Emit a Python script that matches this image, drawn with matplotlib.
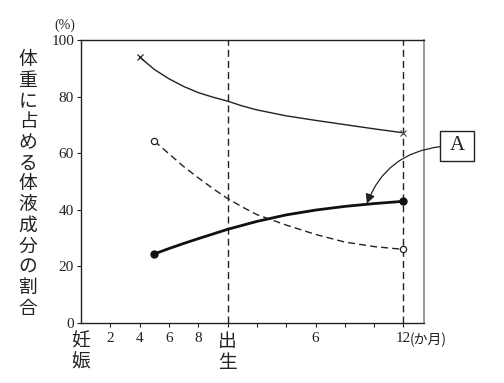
import matplotlib.pyplot as plt
from matplotlib.patches import Rectangle

# x: pregnancy month (0-10), birth = 10, then 10 + months after birth
x_water = [4, 5, 6, 7, 8, 9, 10, 11, 12, 14, 16, 18, 20, 22]
y_water = [94, 89.6, 86.3, 83.6, 81.4, 79.8, 78.4, 76.7, 75.3, 73.2, 71.6, 70.1, 68.6, 67.2]

x_extra = [5, 6, 7, 8, 9, 10, 11, 12, 14, 16, 18, 20, 22]
y_extra = [64.3, 59.8, 55.3, 51.3, 47.5, 44, 41, 38.3, 34.6, 31.3, 28.6, 27, 26]

x_intra = [5, 6, 7, 8, 10, 12, 14, 16, 18, 20, 22]
y_intra = [24.4, 26.3, 28.1, 29.8, 33.1, 35.9, 38.2, 39.9, 41.2, 42.2, 43]

pre_ticks = [2, 4, 6, 8]
post_ticks = [12, 14, 16, 18, 20, 22]
tick_labels = {2: '2', 4: '4', 6: '6', 8: '8', 16: '6', 22: '12'}
yticks = [0, 20, 40, 60, 80, 100]
ylabel = '体重に占める体液成分の割合'

serif = 'Liberation Serif'
jp = ['Noto Sans CJK JP', 'DejaVu Sans']
ink = '#222'

fig = plt.figure(figsize=(5.04, 3.83), dpi=100)
ax = fig.add_axes([81 / 504, 1 - 323 / 383, 343 / 504, 283 / 383])

ax.plot(x_water, y_water, color=ink, lw=1.0)
ax.plot(x_water[0], y_water[0], 'x', color=ink, ms=5, mew=0.9)
ax.plot(x_water[-1], y_water[-1], 'x', color='#555', ms=5, mew=0.9)

ax.plot(x_extra, y_extra, color=ink, lw=1.0, ls=(0, (5, 3)))
ax.plot([x_extra[0], x_extra[-1]], [y_extra[0], y_extra[-1]], 'o', color=ink,
        mfc='white', ms=4.5, mew=0.9)

ax.plot(x_intra, y_intra, color='#111', lw=2.0)
ax.plot([x_intra[0], x_intra[-1]], [y_intra[0], y_intra[-1]], 'o', color='#111', ms=5)

ax.axvline(10, color=ink, lw=1.0, ls=(0, (5, 3)), zorder=0)
ax.axvline(22, color=ink, lw=1.0, ls=(0, (5, 3)), zorder=0)

ax.set_xlim(0, 23.4)
ax.set_ylim(0, 100)
ax.set_xticks(pre_ticks + [10] + post_ticks)
ax.set_xticklabels([])
ax.set_yticks(yticks)
ax.set_yticklabels([str(v) for v in yticks], family=serif, fontsize=11)
ax.tick_params(direction='out', length=3, width=0.8, colors=ink, pad=2)
for s in ['left', 'bottom', 'top']:
    ax.spines[s].set_linewidth(1.0)
    ax.spines[s].set_color(ink)
ax.spines['right'].set_color('#888')
ax.spines['right'].set_linewidth(1.2)

for xv, lab in tick_labels.items():
    ax.text(xv, -3.3, lab, ha='center', va='top', family=serif, fontsize=11, color=ink)
ax.text(22.45, -3.3, '(か月)', ha='left', va='top', family=jp, fontsize=10, color=ink)

ax.text(0, -2.8, '妊\n娠', ha='center', va='top', family=jp, fontsize=13.5,
        linespacing=1.0, color=ink)
ax.text(10, -2.8, '出\n生', ha='center', va='top', family=jp, fontsize=13.5,
        linespacing=1.0, color=ink)
ax.text(-1.1, 103, '(%)', ha='center', va='bottom', family=serif, fontsize=10, color=ink)

fig.text(28 / 504, 1 - 184 / 383, '\n'.join(ylabel), ha='center', va='center',
         family=jp, fontsize=13.5, linespacing=0.98, color=ink)

# label box "A" with curved arrow to the solid line
ax.add_patch(Rectangle((24.49, 57.35), 2.32, 10.6, fc='white', ec=ink, lw=1.0,
                       clip_on=False, zorder=5))
ax.text(25.65, 62.6, 'A', ha='center', va='center', family=serif, fontsize=15,
        color=ink, zorder=6)
ax.annotate('', xy=(19.5, 42.2), xytext=(24.49, 62.3), textcoords='data',
            annotation_clip=False,
            arrowprops=dict(arrowstyle='-|>', color=ink, lw=0.9,
                            mutation_scale=14, shrinkA=0, shrinkB=0,
                            connectionstyle='arc3,rad=0.3'))

fig.savefig('out.png', dpi=100)
